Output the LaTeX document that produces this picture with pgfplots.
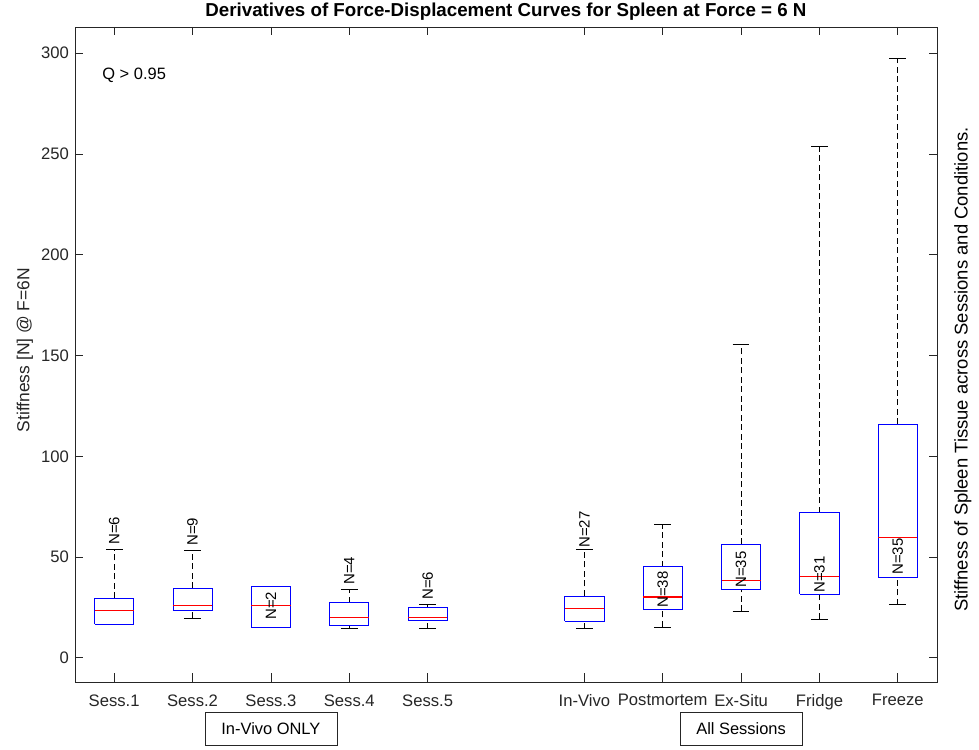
\documentclass[border=0pt]{standalone}
\usepackage{fontspec}
\setmainfont{Liberation Sans}
\usepackage{pgfplots}
\pgfplotsset{compat=1.18}

\definecolor{axisgray}{RGB}{38,38,38}
\definecolor{boxblue}{RGB}{0,0,255}
\definecolor{medred}{RGB}{255,0,0}

\tikzset{
  whiskline/.style={black, line width=0.7bp, dash pattern=on 6bp off 3.5bp},
  capline/.style={black, line width=0.75bp},
  boxframe/.style={draw=boxblue, line width=0.85bp, line join=miter},
  medline/.style={draw=medred, line width=1.1bp},
  nlabel/.style={rotate=90, anchor=west, inner sep=0pt, font=\fontsize{15}{18}\selectfont, text=black},
  plaintext/.style={inner sep=0pt, font=\fontsize{16.5}{19}\selectfont, text=black},
}

% one box-and-whisker glyph:
% #1 position, #2 lower whisker, #3 lower quartile, #4 median, #5 upper quartile, #6 upper whisker
\newcommand\drawbox[6]{%
  \pgfmathsetmacro\boxL{#1-0.25}\pgfmathsetmacro\boxR{#1+0.25}%
  \pgfmathsetmacro\capL{#1-0.107}\pgfmathsetmacro\capR{#1+0.107}%
  \edef\temp{%
    \noexpand\addplot[whiskline] coordinates {(#1,#5) (#1,#6)};
    \noexpand\addplot[whiskline] coordinates {(#1,#2) (#1,#3)};
    \noexpand\addplot[capline] coordinates {(\capL,#6) (\capR,#6)};
    \noexpand\addplot[capline] coordinates {(\capL,#2) (\capR,#2)};
    \noexpand\addplot[boxframe] coordinates {(\boxL,#3) (\boxR,#3) (\boxR,#5) (\boxL,#5) (\boxL,#3)};
    \noexpand\addplot[medline] coordinates {(\boxL,#4) (\boxR,#4)};
  }\temp
}

\begin{document}
\begin{tikzpicture}
\begin{axis}[
  scale only axis,
  width=862bp, height=655bp,
  clip=false,
  xmin=0.5, xmax=11.5,
  ymin=-12, ymax=313,
  xtick={1,2,3,4,5,7,8,9,10,11},
  xticklabels={Sess.1,Sess.2,Sess.3,Sess.4,Sess.5,In-Vivo,Postmortem,Ex-Situ,Fridge,Freeze},
  ytick={0,50,100,150,200,250,300},
  /pgf/number format/assume math mode=true,
  tick align=inside,
  major tick length=8.5bp,
  axis line style={draw=axisgray, line width=0.75bp},
  every tick/.style={draw=axisgray, line width=0.75bp},
  tick label style={font=\fontsize{16.7}{19}\selectfont, text=axisgray},
  xticklabel style={yshift=-9bp},
  yticklabel style={xshift=-2.5bp},
  title={Derivatives of Force-Displacement Curves for Spleen at Force = 6 N},
  title style={font=\bfseries\fontsize{18.8}{22}\selectfont, text=black,
    at={(0.5,1)}, anchor=base, yshift=5bp, inner sep=0pt},
]
% In-vivo sessions
\drawbox{1}{16.5}{16.7}{23.5}{29.5}{53.6}
\drawbox{2}{19.8}{23.3}{26.1}{34.6}{53.1}
\drawbox{3}{15.2}{15.2}{25.8}{35.4}{35.4}
\drawbox{4}{14.4}{16.0}{20.0}{27.4}{34.2}
\drawbox{5}{14.5}{18.5}{20.0}{25.0}{26.3}
% all sessions, by condition
\drawbox{7}{14.4}{18.3}{24.3}{30.7}{53.6}
\drawbox{8}{15.3}{23.8}{30.2}{45.3}{66.4}
\drawbox{9}{23.0}{33.7}{38.4}{56.4}{155.7}
\drawbox{10}{19.2}{31.7}{40.2}{72.1}{253.9}
\drawbox{11}{26.3}{40.0}{59.8}{115.9}{297.5}

% sample sizes
\node[nlabel] at (axis cs:1,56.0) {N=6};
\node[nlabel] at (axis cs:2,55.5) {N=9};
\node[nlabel] at (axis cs:3,18.8) {N=2};
\node[nlabel] at (axis cs:4,36.2) {N=4};
\node[nlabel] at (axis cs:5,28.8) {N=6};
\node[nlabel] at (axis cs:7,54.5) {N=27};
\node[nlabel] at (axis cs:8,24.8) {N=38};
\node[nlabel] at (axis cs:9,34.7) {N=35};
\node[nlabel] at (axis cs:10,32.2) {N=31};
\node[nlabel] at (axis cs:11,41.2) {N=35};

\node[plaintext, anchor=west] at (axis cs:0.847,289) {Q > 0.95};

% axis title on the left
\node[rotate=90, inner sep=0pt, font=\fontsize{17.5}{20}\selectfont, text=axisgray]
  at (axis cs:-0.14,152.7) {Stiffness [N] @ F=6N};

% group captions under the category labels
\node[plaintext, draw=axisgray, line width=0.75bp, minimum width=132bp, minimum height=33bp]
  at (axis cs:3,-35.2) {In-Vivo ONLY};
\node[plaintext, draw=axisgray, line width=0.75bp, minimum width=122bp, minimum height=33bp]
  at (axis cs:9,-35.2) {All Sessions};

% descriptive label on the right-hand side
\node[rotate=90, inner sep=0pt, font=\fontsize{18.5}{21}\selectfont, text=black]
  at (axis cs:11.83,143) {Stiffness of Spleen Tissue across Sessions and Conditions.};
\end{axis}
% page frame around the axis and its labels
\path (-75bp,-68bp) rectangle (904bp,682bp);
\end{tikzpicture}
\end{document}
